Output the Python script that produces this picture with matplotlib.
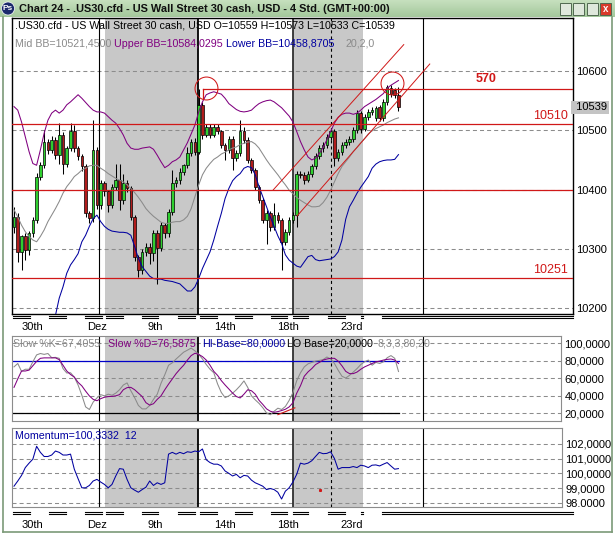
import matplotlib
matplotlib.use("Agg")
import matplotlib.pyplot as plt
import numpy as np
from matplotlib.lines import Line2D
from matplotlib.patches import Rectangle, Ellipse

plt.rcParams['font.family'] = ['Liberation Sans', 'DejaVu Sans']
plt.rcParams['lines.scale_dashes'] = False

W, H = 615, 534

# ---- price data (4h candles) ----
open_ = [10337, 10354, 10295, 10321, 10298, 10326, 10349, 10422, 10441, 10481,
         10467, 10484, 10458, 10492, 10444, 10470, 10498, 10470, 10456, 10439,
         10360, 10352, 10467, 10374, 10411, 10397, 10374, 10405, 10416, 10382,
         10411, 10402, 10354, 10287, 10264, 10295, 10304, 10293, 10326, 10301,
         10340, 10326, 10363, 10411, 10416, 10430, 10441, 10461, 10481, 10464,
         10543, 10492, 10506, 10492, 10506, 10498, 10475, 10467, 10486, 10453,
         10461, 10498, 10484, 10450, 10433, 10405, 10382, 10349, 10360, 10337,
         10357, 10349, 10312, 10329, 10349, 10357, 10427, 10425, 10416, 10427,
         10439, 10456, 10470, 10475, 10489, 10498, 10453, 10464, 10475, 10481,
         10486, 10500, 10529, 10503, 10523, 10531, 10520, 10539, 10520, 10548,
         10571, 10568, 10559]
high = [10371, 10360, 10323, 10326, 10330, 10354, 10428, 10447, 10500, 10486,
        10490, 10488, 10512, 10497, 10474, 10512, 10509, 10474, 10460, 10443,
        10364, 10517, 10472, 10416, 10415, 10400, 10410, 10444, 10444, 10427,
        10416, 10406, 10358, 10290, 10300, 10310, 10310, 10332, 10332, 10346,
        10343, 10368, 10433, 10422, 10436, 10444, 10472, 10486, 10487, 10569,
        10548, 10510, 10510, 10510, 10510, 10500, 10478, 10490, 10490, 10466,
        10517, 10506, 10488, 10454, 10437, 10408, 10386, 10365, 10364, 10377,
        10362, 10352, 10334, 10354, 10362, 10432, 10431, 10429, 10432, 10444,
        10461, 10475, 10481, 10494, 10503, 10502, 10469, 10480, 10486, 10491,
        10505, 10534, 10532, 10528, 10536, 10539, 10541, 10543, 10552, 10576,
        10576, 10572, 10573]
low = [10326, 10278, 10264, 10281, 10290, 10320, 10343, 10416, 10436, 10460,
       10462, 10452, 10444, 10427, 10438, 10465, 10464, 10450, 10432, 10354,
       10343, 10346, 10368, 10368, 10390, 10363, 10369, 10400, 10366, 10376,
       10396, 10348, 10280, 10253, 10258, 10288, 10275, 10280, 10240, 10296,
       10318, 10320, 10357, 10404, 10410, 10424, 10436, 10456, 10458, 10460,
       10486, 10488, 10487, 10488, 10493, 10470, 10450, 10462, 10433, 10448,
       10456, 10479, 10445, 10428, 10400, 10377, 10343, 10309, 10330, 10332,
       10344, 10264, 10306, 10323, 10344, 10337, 10420, 10410, 10412, 10422,
       10434, 10451, 10463, 10470, 10484, 10439, 10448, 10459, 10470, 10476,
       10480, 10495, 10495, 10499, 10518, 10526, 10515, 10515, 10515, 10543,
       10557, 10555, 10533]
close = [10354, 10295, 10321, 10298, 10326, 10349, 10422, 10441, 10481, 10467,
         10484, 10458, 10492, 10444, 10470, 10498, 10470, 10456, 10439, 10360,
         10352, 10467, 10374, 10411, 10397, 10374, 10405, 10416, 10382, 10411,
         10402, 10354, 10287, 10264, 10295, 10304, 10293, 10326, 10301, 10340,
         10326, 10363, 10411, 10416, 10430, 10441, 10461, 10481, 10464, 10543,
         10492, 10506, 10492, 10506, 10498, 10475, 10467, 10486, 10453, 10461,
         10498, 10484, 10450, 10433, 10405, 10382, 10349, 10360, 10337, 10357,
         10349, 10312, 10329, 10349, 10357, 10427, 10425, 10416, 10427, 10439,
         10456, 10470, 10475, 10489, 10498, 10453, 10464, 10475, 10481, 10486,
         10500, 10529, 10503, 10523, 10531, 10534, 10537, 10520, 10548, 10573,
         10562, 10559, 10539]

# ---- Bollinger bands (20,2) ----
bb_upper = [10540, 10534, 10514, 10489, 10464, 10444, 10441, 10467, 10495, 10517,
            10529, 10534, 10529, 10534, 10543, 10548, 10554, 10560, 10554, 10547,
            10540, 10534, 10531, 10531, 10529, 10523, 10517, 10512, 10503, 10492,
            10478, 10470, 10468, 10468, 10470, 10471, 10472, 10468, 10458, 10447,
            10437, 10441, 10447, 10450, 10455, 10467, 10479, 10494, 10509, 10531,
            10548, 10560, 10563, 10565, 10563, 10561, 10554, 10545, 10540, 10535,
            10532, 10531, 10532, 10534, 10540, 10545, 10548, 10550, 10551, 10548,
            10543, 10538, 10531, 10524, 10514, 10498, 10481, 10467, 10455, 10450,
            10453, 10461, 10471, 10484, 10498, 10512, 10522, 10527, 10529, 10529,
            10527, 10529, 10534, 10540, 10544, 10548, 10552, 10557, 10562, 10571,
            10576, 10580, 10584]
bb_mid = [10366, 10354, 10340, 10329, 10321, 10315, 10312, 10321, 10332, 10346,
          10357, 10368, 10380, 10394, 10405, 10413, 10422, 10427, 10433, 10436,
          10440, 10441, 10441, 10436, 10432, 10427, 10423, 10419, 10416, 10413,
          10408, 10402, 10395, 10387, 10378, 10368, 10361, 10355, 10350, 10345,
          10343, 10343, 10345, 10346, 10346, 10349, 10355, 10368, 10388, 10408,
          10425, 10436, 10444, 10451, 10455, 10460, 10463, 10467, 10470, 10472,
          10476, 10478, 10480, 10481, 10477, 10470, 10460, 10450, 10441, 10433,
          10425, 10416, 10408, 10399, 10393, 10387, 10382, 10378, 10374, 10371,
          10371, 10372, 10378, 10387, 10399, 10413, 10427, 10439, 10447, 10455,
          10464, 10471, 10479, 10486, 10494, 10499, 10503, 10506, 10509, 10513,
          10516, 10519, 10521]
bb_lower = [10185, 10182, 10176, 10170, 10168, 10170, 10172, 10170, 10168, 10172,
            10180, 10188, 10217, 10236, 10259, 10273, 10282, 10292, 10312, 10323,
            10338, 10351, 10357, 10346, 10338, 10333, 10330, 10329, 10328, 10328,
            10327, 10323, 10304, 10284, 10270, 10262, 10254, 10250, 10249, 10249,
            10247, 10246, 10245, 10243, 10241, 10235, 10229, 10229, 10236, 10250,
            10267, 10281, 10295, 10315, 10338, 10360, 10385, 10402, 10415, 10422,
            10427, 10436, 10439, 10437, 10425, 10405, 10388, 10371, 10354, 10338,
            10322, 10309, 10290, 10281, 10276, 10271, 10269, 10278, 10287, 10289,
            10282, 10280, 10281, 10282, 10283, 10287, 10295, 10315, 10350, 10371,
            10382, 10394, 10404, 10413, 10422, 10436, 10443, 10447, 10449, 10450,
            10450, 10451, 10459]

# ---- slow stochastic (8,3,3) ----
stoch_k = [72.7, 76.6, 67.6, 70.0, 70.0, 78.5, 86.4, 88.0, 87.0, 88.0,
           83.2, 83.6, 82.5, 70.8, 65.7, 66.0, 61.0, 52.0, 40.3, 27.0,
           24.0, 32.5, 37.2, 41.0, 39.6, 41.5, 40.3, 42.7, 46.6, 52.0,
           54.4, 45.4, 37.6, 28.6, 24.7, 24.7, 28.6, 35.6, 41.5, 54.0,
           63.7, 74.6, 77.4, 81.7, 85.6, 89.5, 91.8, 94.2, 91.0, 87.0,
           81.7, 75.4, 70.0, 66.0, 53.2, 43.4, 37.6, 39.6, 42.7, 46.6,
           51.2, 56.7, 49.3, 39.6, 35.0, 31.0, 26.0, 20.0, 18.0, 22.0,
           25.5, 24.0, 27.5, 34.5, 43.4, 57.0, 66.0, 72.7, 76.2, 77.8,
           79.3, 80.1, 81.0, 84.0, 81.7, 76.6, 68.8, 62.0, 60.0, 63.0,
           66.8, 70.8, 75.4, 78.5, 80.5, 74.6, 77.8, 76.6, 78.5, 83.2,
           85.6, 82.5, 67.4]
stoch_d = [49.3, 59.0, 68.0, 68.0, 69.0, 74.0, 79.0, 82.5, 83.0, 83.0,
           83.0, 83.0, 81.0, 74.6, 68.0, 64.0, 61.0, 55.0, 51.0, 45.0,
           39.5, 35.6, 34.0, 36.4, 38.0, 38.8, 39.0, 39.6, 41.0, 46.6,
           49.0, 49.3, 46.6, 42.7, 38.8, 31.8, 29.0, 30.6, 35.6, 39.6,
           46.6, 53.0, 59.0, 65.0, 70.0, 74.6, 80.5, 85.6, 88.3, 87.0,
           84.4, 80.5, 74.6, 67.6, 63.0, 57.0, 52.0, 47.4, 42.7, 38.8,
           37.2, 41.5, 46.6, 45.4, 41.5, 34.5, 29.8, 24.7, 22.0, 20.8,
           21.6, 22.8, 24.3, 27.0, 31.8, 42.7, 51.2, 62.0, 67.0, 70.8,
           75.4, 77.8, 80.5, 81.7, 82.5, 82.5, 79.3, 73.9, 67.6, 65.0,
           65.0, 66.8, 70.0, 72.7, 74.6, 76.6, 78.5, 79.3, 80.5, 81.3,
           81.7, 80.5, 76.6]

# ---- momentum (12) ----
momentum = [99.14, 99.49, 99.87, 100.40, 100.70, 100.97, 101.84, 101.43, 101.15, 101.15,
            101.25, 101.52, 101.43, 101.25, 101.25, 101.31, 100.29, 99.65, 99.03, 99.03,
            99.19, 99.49, 99.60, 99.42, 99.26, 99.03, 99.26, 99.83, 100.33, 100.29,
            99.60, 99.03, 98.87, 98.73, 98.91, 99.07, 99.49, 99.19, 99.37, 99.26,
            99.37, 101.31, 101.43, 101.31, 101.43, 101.34, 101.47, 101.43, 101.52, 101.47,
            101.66, 100.93, 100.74, 100.63, 100.63, 100.51, 100.17, 100.01, 99.83, 99.94,
            99.71, 99.87, 99.83, 99.55, 99.37, 99.26, 99.14, 98.91, 98.98, 98.91,
            98.73, 98.27, 98.80, 99.03, 99.42, 99.94, 100.70, 100.63, 100.70, 100.86,
            101.15, 101.43, 101.34, 101.36, 101.47, 101.02, 100.29, 100.40, 100.40, 100.40,
            100.47, 100.40, 100.56, 100.51, 100.40, 100.56, 100.58, 100.51, 100.63, 100.74,
            100.51, 100.29, 100.33]

date_labels = ["30th", "Dez", "9th", "14th", "18th", "23rd"]
date_pos = [5.0, 22.0, 37.4, 56.0, 72.7, 89.7]

price_ticks = [10200, 10300, 10400, 10500, 10600]
stoch_ticks = [20, 40, 60, 80, 100]
stoch_tick_labels = ["20,0000", "40,0000", "60,0000", "80,0000", "100,0000"]
mom_ticks = [98, 99, 100, 101, 102]
mom_tick_labels = ["98.0000", "99,0000", "100,0000", "101,0000", "102,0000"]

# drawn support / resistance levels
levels = [10570, 10510, 10400, 10251]

# ---------------------------------------------------------------
fig = plt.figure(figsize=(W / 100, H / 100), dpi=100, facecolor="white")


def box(l, t, r, b):
    return [l / W, 1 - b / H, (r - l) / W, (b - t) / H]


def fx(x):
    return x / W


def fy(y):
    return 1 - y / H


ax = fig.add_axes(box(12, 18, 573, 314))
ax_st = fig.add_axes(box(12, 336, 561, 421))
ax_mo = fig.add_axes(box(12, 428, 562, 507))

idx = np.arange(len(close))
GRID = dict(color="#8c8c8c", lw=0.75, ls=(0, (2.9, 2.2)), zorder=1)
SHADE = "#c8c8c8"
LW = 0.75

for a in (ax, ax_st, ax_mo):
    a.set_facecolor("white")
    a.axvspan(24.1, 48.8, color=SHADE, lw=0, zorder=0)
    a.axvspan(74.0, 92.6, color=SHADE, lw=0, zorder=0)
    a.axvline(22.5, color="black", lw=0.8, zorder=1.5)
    a.axvline(48.8, color="black", lw=1.3, zorder=1.5)
    a.axvline(74.0, color="#303030", lw=1.3, zorder=1.5)
    a.axvline(84.1, color="black", lw=0.8, ls=(0, (2.2, 2.2)), zorder=1.5)
    a.axvline(108.5, color="black", lw=0.8, zorder=1.5)
    a.yaxis.tick_right()
    a.tick_params(axis="y", length=0, pad=2.5, labelsize=8)
    a.tick_params(axis="x", length=0)

# ---- main panel ----
ax.set_xlim(-0.53, 148.3)
ax.set_ylim(10190.2, 10689.4)
for v in price_ticks:
    ax.axhline(v, **GRID)

o = np.array(open_)
c = np.array(close)
up = c >= o
ax.vlines(idx, low, high, color="black", lw=0.75, zorder=2)
body_h = np.where(np.abs(c - o) < 1, 1, c - o)
ax.bar(idx, body_h, bottom=o, width=0.7,
       color=np.where(up, "#2fcf2f", "#b01c1c"),
       edgecolor="black", linewidth=0.5, zorder=2.5)

ax.plot(idx, bb_upper, color="#800080", lw=LW, zorder=3)
ax.plot(idx, bb_mid, color="#8a8a8a", lw=LW, zorder=3)
ax.plot(idx, bb_lower, color="#0000a0", lw=LW, zorder=3)

red = "#d01818"
for lv in levels[1:]:
    ax.axhline(lv, color=red, lw=0.9, zorder=4)
ax.plot([50.1, 148.3], [levels[0], levels[0]], color=red, lw=0.9, zorder=4)
ax.plot([50.1, 50.1], [10555, levels[0]], color=red, lw=0.9, zorder=4)
ax.plot([68.7, 103.4], [10399, 10644.5], color=red, lw=0.7, zorder=4)
ax.plot([75.1, 110.3], [10355.5, 10611.8], color=red, lw=0.7, zorder=4)
ax.plot([50.9, 100.3], [10571.3, 10579.8], "o", ms=16.5, mfc="none",
        mec=red, mew=0.75, zorder=4)

ax.text(125.2, 10586.5, "570", color=red, fontsize=9, fontweight="bold",
        ha="center", va="center", zorder=5)
ax.text(147.0, 10524, "10510", color=red, fontsize=9, ha="right",
        va="center", zorder=5)
ax.text(147.0, 10264.4, "10251", color=red, fontsize=9, ha="right",
        va="center", zorder=5)

ax.set_yticks(price_ticks)
ax.set_yticklabels([str(v) for v in price_ticks])
ax.set_xticks(date_pos)
ax.set_xticklabels(date_labels, fontsize=8)
ax.tick_params(axis="x", pad=6)
ax.text(1.0, close[-1], " %d" % close[-1], transform=ax.get_yaxis_transform(),
        fontsize=8, ha="left", va="center", clip_on=False,
        bbox=dict(boxstyle="square,pad=0.15", fc="#c4c4c4", ec="none"))
for s in ax.spines.values():
    s.set_color("black")
    s.set_linewidth(1.0)

# ---- stochastic panel ----
ax_st.set_xlim(-0.53, 145.1)
ax_st.set_ylim(10.86, 108)
for v in stoch_ticks:
    ax_st.axhline(v, **GRID)
ax_st.plot([-0.5, 102], [80, 80], color="#0000c8", lw=0.9, zorder=2)
ax_st.plot([-0.5, 102], [20, 20], color="black", lw=0.9, zorder=2)
ax_st.plot(idx, stoch_k, color="#8a8a8a", lw=LW, zorder=3)
ax_st.plot(idx, stoch_d, color="#800080", lw=LW, zorder=3)
ax_st.plot([70.0, 74.5], [18.1, 25.9], color=red, lw=0.8, zorder=4)
ax_st.set_yticks(stoch_ticks)
ax_st.set_yticklabels(stoch_tick_labels)
ax_st.set_xticks([])
for s in ax_st.spines.values():
    s.set_color("#8c8c8c")

# ---- momentum panel ----
ax_mo.set_xlim(-0.53, 145.4)
ax_mo.set_ylim(97.73, 103.08)
for v in mom_ticks:
    ax_mo.axhline(v, **GRID)
ax_mo.plot(idx, momentum, color="#0000a0", lw=LW, zorder=3)
ax_mo.plot([81.2], [98.9], "s", ms=1.2, color=red, zorder=4)
ax_mo.set_yticks(mom_ticks)
ax_mo.set_yticklabels(mom_tick_labels)
ax_mo.set_xticks(date_pos)
ax_mo.set_xticklabels(date_labels, fontsize=8)
ax_mo.tick_params(axis="x", pad=9)
for s in ax_mo.spines.values():
    s.set_color("#8c8c8c")

# ---- legends ----
fs = 7.7
fig.text(fx(15), fy(26), ".US30.cfd - US Wall Street 30 cash, USD O=10559 H=10573 L=10533 C=10539",
         fontsize=fs, va="center")
for x, t, col in [(15, "Mid BB=10521,4500", "#8a8a8a"),
                  (114, "Upper BB=10584,0295", "#800080"),
                  (226, "Lower BB=10458,8705", "#0000a0"),
                  (345, "20,2,0", "#8a8a8a")]:
    fig.text(fx(x), fy(44), t, fontsize=fs, color=col, va="center")
for x, t, col in [(13, "Slow %K=67,4055", "#8a8a8a"),
                  (108, "Slow %D=76,5875", "#800080"),
                  (202, "HI-Base=80,0000", "#0000a0"),
                  (287, "LO Base=20,0000", "black"),
                  (378, "8,3,3,80,20", "#8a8a8a")]:
    fig.text(fx(x), fy(343), t, fontsize=fs, color=col, va="center")
fig.text(fx(15), fy(436), "Momentum=100,3332  12", fontsize=fs, color="#0000a0", va="center")

# ---- day break marks (double lines) ----
segs = [(13, 30), (49, 66), (85, 102), (106, 123), (142, 158), (178, 195),
        (200, 217), (235, 252), (271, 287), (293, 308), (328, 345), (361, 363),
        (382, 573)]
for y0 in (316, 512):
    for a0, b0 in segs:
        for dy in (0, 2.2):
            fig.add_artist(Line2D([fx(a0), fx(b0)], [fy(y0 + dy), fy(y0 + dy)],
                                  color="black", lw=0.8))

# ---- window chrome ----
tb = fig.add_axes([0, fy(17), 1, 17 / H])
grad = np.linspace(0, 1, 64).reshape(-1, 1)
tb.imshow(grad, aspect="auto", cmap=matplotlib.colors.LinearSegmentedColormap.from_list(
    "tb", ["#c6e0be", "#a4c89c"]), extent=[0, 1, 0, 1])
tb.set_xlim(0, 1)
tb.set_ylim(0, 1)
tb.axis("off")
tb.add_patch(Ellipse((fx(8), 0.5), 13 / W, 13 / 17, transform=tb.transAxes,
                     fc="#1c2a6c", ec="white", lw=0.5))
tb.text(fx(8), 0.48, "Ps", color="white", fontsize=6, fontweight="bold",
        ha="center", va="center")
tb.text(fx(19), 0.5, "Chart 24 - .US30.cfd - US Wall Street 30 cash, USD - 4 Std. (GMT+00:00)",
        fontsize=7.9, fontweight="bold", color="#101010", va="center")
for i, x0 in enumerate([560, 573, 587, 600]):
    fc = "#d83a2a" if i == 3 else "#dfe8dc"
    tb.add_patch(Rectangle((fx(x0), 0.12), 11 / W, 0.72, transform=tb.transAxes,
                           fc=fc, ec="#506850", lw=0.7))
tb.text(fx(605.5), 0.47, "x", color="white", fontsize=7, fontweight="bold",
        ha="center", va="center")

for xs, ys in [([fx(3), fx(3)], [fy(17), fy(532)]),
               ([fx(612), fx(612)], [fy(17), fy(532)]),
               ([fx(3), fx(612)], [fy(532), fy(532)])]:
    fig.add_artist(Line2D(xs, ys, color="#7c9a78", lw=1.2))

fig.savefig("out.png", dpi=100, facecolor="white")
